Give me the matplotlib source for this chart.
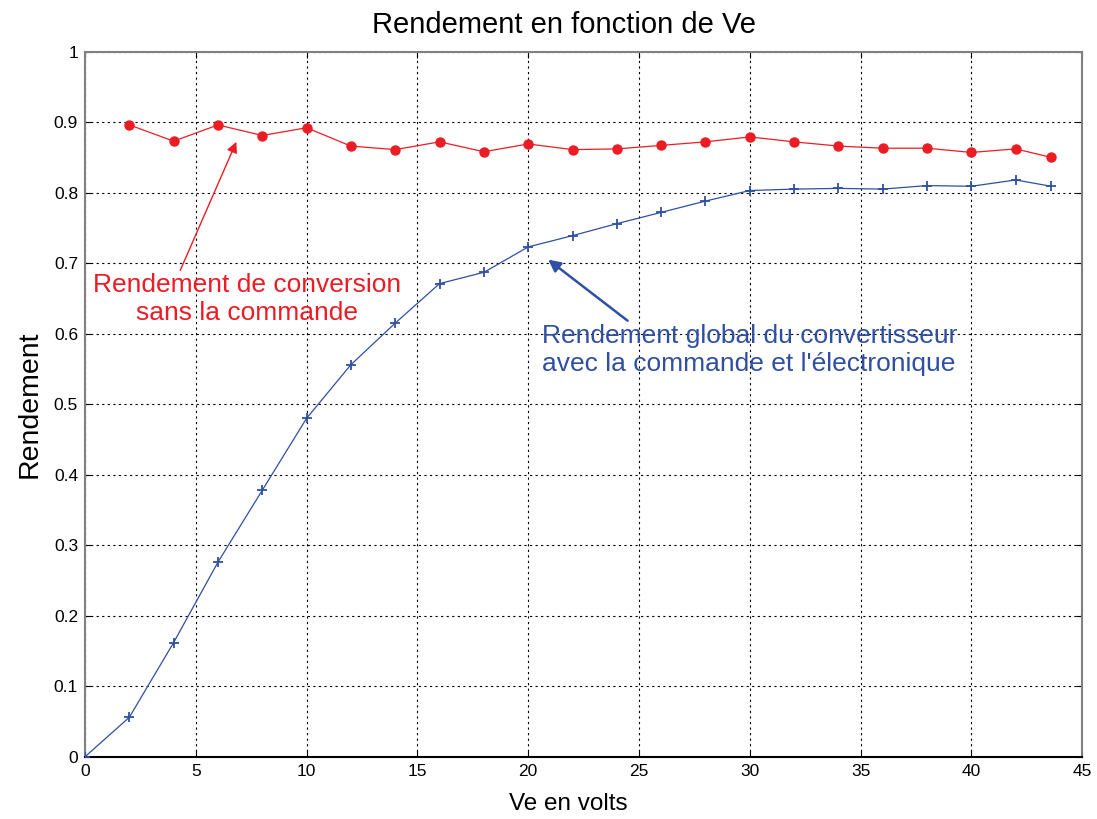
import matplotlib
matplotlib.use("Agg")
import matplotlib.pyplot as plt

plt.rcParams['font.family'] = ['Liberation Sans', 'DejaVu Sans']

# Tension d'entrée (V)
ve_conv = [2, 4, 6, 8, 10, 12, 14, 16, 18, 20, 22, 24, 26, 28, 30,
           32, 34, 36, 38, 40, 42, 43.6]
# Rendement de conversion sans la commande
rend_conv = [0.896, 0.873, 0.896, 0.881, 0.892, 0.866, 0.861, 0.872, 0.858,
             0.869, 0.861, 0.862, 0.867, 0.872, 0.879, 0.872, 0.866, 0.863,
             0.863, 0.857, 0.862, 0.850]

ve_glob = [0, 2, 4, 6, 8, 10, 12, 14, 16, 18, 20, 22, 24, 26, 28, 30,
           32, 34, 36, 38, 40, 42, 43.6]
# Rendement global (commande + électronique)
rend_glob = [0.0, 0.056, 0.162, 0.276, 0.378, 0.480, 0.556, 0.615, 0.671,
             0.687, 0.723, 0.739, 0.756, 0.772, 0.788, 0.803, 0.805, 0.806,
             0.805, 0.810, 0.809, 0.818, 0.809]

xticks = [0, 5, 10, 15, 20, 25, 30, 35, 40, 45]
yticks = [0, 0.1, 0.2, 0.3, 0.4, 0.5, 0.6, 0.7, 0.8, 0.9, 1]
ytick_labels = ['0', '0.1', '0.2', '0.3', '0.4', '0.5', '0.6', '0.7', '0.8', '0.9', '1']

RED = '#ec1c24'
BLUE = '#2f4fa2'

fig = plt.figure(figsize=(10.97, 8.19), dpi=100)
ax = fig.add_axes([0.0775, 0.076, 0.909, 0.861])

ax.plot(ve_conv, rend_conv, '-', color=RED, lw=0.9, marker='o',
        markersize=6.5, markerfacecolor=RED, markeredgecolor=RED, zorder=3)
ax.plot(ve_glob, rend_glob, '-', color=BLUE, lw=0.9, marker='+',
        markersize=7, markeredgewidth=1.3, zorder=3)

ax.set_xlim(0, 45)
ax.set_ylim(0, 1)
ax.set_xticks(xticks)
ax.set_xticklabels([str(t) for t in xticks])
ax.set_yticks(yticks)
ax.set_yticklabels(ytick_labels)
ax.tick_params(direction='in', length=4, labelsize=12.5, colors='black',
               top=True, right=True, pad=5)
ax.grid(True, color='black', linestyle=(0, (2, 3)), linewidth=0.8)

for name, sp in ax.spines.items():
    sp.set_linewidth(1.5)
    sp.set_color('#808080')
ax.spines['bottom'].set_color('black')

fig.text(0.514, 0.969, 'Rendement en fonction de Ve', fontsize=21,
         ha='center', va='center')
ax.set_xlabel('Ve en volts', fontsize=17.5)
ax.xaxis.set_label_coords(0.4845, -0.052)
ax.set_ylabel('Rendement', fontsize=20.5)
ax.yaxis.set_label_coords(-0.043, 0.5)

ax.annotate('Rendement de conversion\nsans la commande',
            xy=(6.83, 0.872), xytext=(7.3, 0.649),
            ha='center', va='center', color=RED, fontsize=19,
            multialignment='center', linespacing=1.2,
            arrowprops=dict(arrowstyle='-|>', color=RED, lw=1.0,
                            mutation_scale=16, shrinkA=0, shrinkB=0,
                            relpos=(0.28, 1.0)))

ax.annotate("Rendement global du convertisseur\navec la commande et l'électronique",
            xy=(20.9, 0.705), xytext=(20.6, 0.577),
            ha='left', va='center', color=BLUE, fontsize=19,
            linespacing=1.25,
            arrowprops=dict(arrowstyle='-|>', color=BLUE, lw=1.8,
                            mutation_scale=18, shrinkA=0, shrinkB=0,
                            relpos=(0.216, 1.0)))

fig.savefig('out.png', dpi=100)
